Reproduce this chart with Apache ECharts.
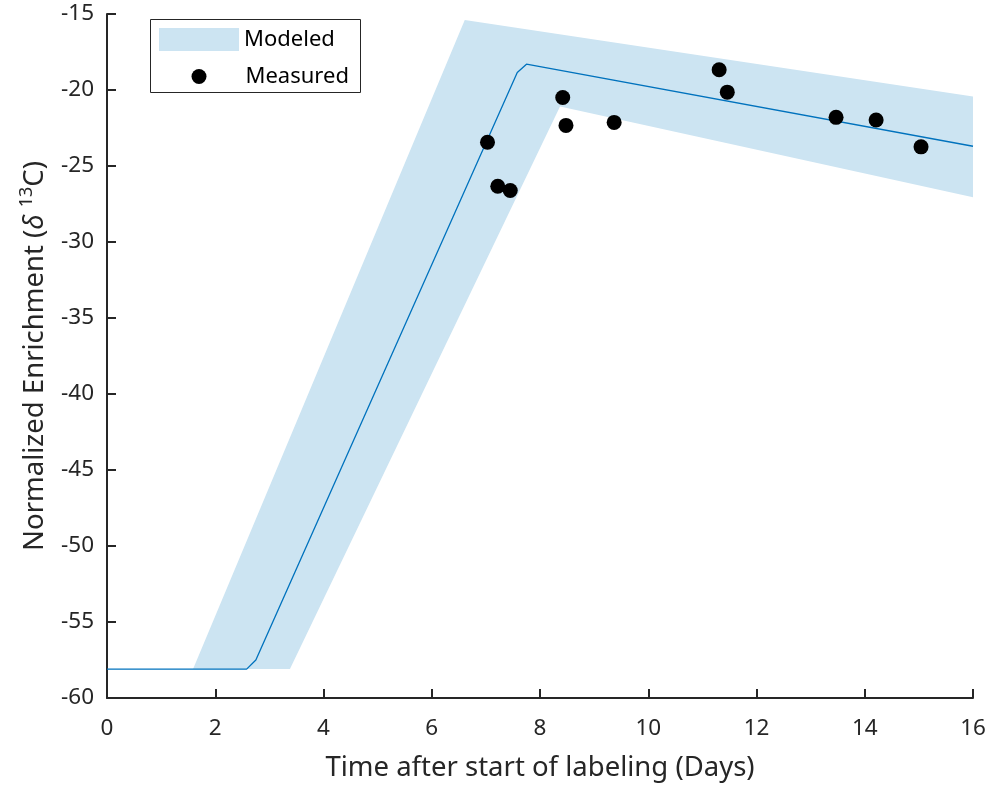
<!DOCTYPE html>
<html>
<head>
<meta charset="utf-8">
<script src="https://cdn.jsdelivr.net/npm/echarts@6/dist/echarts.min.js"></script>
<style>
  html, body { margin: 0; padding: 0; background: #ffffff; }
  #chart { width: 989px; height: 787px; }
</style>
</head>
<body>
<div id="chart"></div>
<script>
// Modeled enrichment curve (days, δ13C)
const modelX = [0, 2.58, 2.75, 7.58, 7.75, 16];
const modelY = [-58.1, -58.1, -57.5, -18.85, -18.3, -23.70];

// Upper and lower edges of the modeled uncertainty band
const bandUpperX = [0, 1.59, 6.43, 6.61, 16];
const bandUpperY = [-58.1, -58.1, -16.92, -15.39, -20.42];
const bandLowerX = [0, 3.38, 8.37, 16];
const bandLowerY = [-58.1, -58.1, -21.08, -27.05];

// Measured samples
const measuredX = [7.03, 7.22, 7.45, 8.42, 8.48, 9.37, 11.31, 11.46, 13.47, 14.21, 15.04];
const measuredY = [-23.44, -26.33, -26.61, -20.49, -22.33, -22.13, -18.67, -20.14, -21.80, -21.97, -23.74];

// Axis ticks
const xTicks = { min: 0, max: 16, step: 2 };
const yTicks = { min: -60, max: -15, step: 5 };

const FONT = 'Noto Sans';
const INK = '#262626';
const BAND = 'rgb(204,228,242)';
const LINE = '#0072BD';

const modelData = modelX.map((x, i) => [x, modelY[i]]);
const measuredData = measuredX.map((x, i) => [x, measuredY[i]]);

const chart = echarts.init(document.getElementById('chart'), null, { renderer: 'canvas' });

chart.setOption({
  animation: false,
  backgroundColor: '#ffffff',
  grid: { left: 107, top: 14, right: 16, bottom: 88, containLabel: false },
  legend: [
    {
      left: 154, top: 23, orient: 'vertical',
      itemWidth: 80, itemHeight: 23,
      data: [{ name: 'Modeled', icon: 'rect' }],
      textStyle: { fontFamily: FONT, fontSize: 22, color: '#000' },
      selectedMode: false
    },
    {
      left: 186.5, top: 60.5, orient: 'vertical',
      itemWidth: 15, itemHeight: 15,
      data: [{ name: 'Measured', icon: 'circle', itemStyle: { color: '#000', opacity: 1 } }],
      textStyle: { fontFamily: FONT, fontSize: 22, color: '#000', padding: [0, 0, 0, 34] },
      selectedMode: false
    }
  ],
  graphic: [
    {
      type: 'rect', z: 100, silent: true,
      shape: { x: 150.5, y: 19.5, width: 210, height: 73 },
      style: { fill: 'none', stroke: INK, lineWidth: 1 }
    }
  ],
  xAxis: {
    type: 'value',
    min: xTicks.min, max: xTicks.max, interval: xTicks.step,
    name: 'Time after start of labeling (Days)',
    nameLocation: 'middle', nameGap: 56,
    nameTextStyle: { fontFamily: FONT, fontSize: 27.5, color: INK },
    axisLine: { show: true, onZero: false, lineStyle: { color: INK, width: 2 } },
    axisTick: { show: true, inside: true, length: 9, lineStyle: { color: INK, width: 2 } },
    axisLabel: { fontFamily: FONT, fontSize: 22.5, color: INK, margin: 19 },
    splitLine: { show: false }
  },
  yAxis: {
    type: 'value',
    min: yTicks.min, max: yTicks.max, interval: yTicks.step,
    name: '{t|Normalized Enrichment (}{d|δ}{t| }{s|13}{t|C)}',
    nameLocation: 'middle', nameGap: 55, nameRotate: 90,
    nameTextStyle: {
      fontFamily: FONT, fontSize: 27.5, color: INK,
      rich: {
        t: { fontFamily: FONT, fontSize: 27.5, color: INK, lineHeight: 34 },
        d: { fontFamily: FONT, fontSize: 27.5, color: INK, fontStyle: 'italic', lineHeight: 34 },
        s: { fontFamily: FONT, fontSize: 18, color: INK, verticalAlign: 'top', lineHeight: 22 }
      }
    },
    axisLine: { show: true, onZero: false, lineStyle: { color: INK, width: 2 } },
    axisTick: { show: true, inside: true, length: 9, lineStyle: { color: INK, width: 2 } },
    axisLabel: { fontFamily: FONT, fontSize: 22.5, color: INK, margin: 13 },
    splitLine: { show: false }
  },
  series: [
    {
      name: 'Modeled',
      type: 'custom',
      coordinateSystem: 'cartesian2d',
      itemStyle: { color: BAND },
      data: [[0, bandUpperY[0]]],
      z: 1,
      silent: true,
      renderItem: function (params, api) {
        const pts = [];
        for (let i = 0; i < bandUpperX.length; i++) {
          pts.push(api.coord([bandUpperX[i], bandUpperY[i]]));
        }
        for (let i = bandLowerX.length - 1; i >= 0; i--) {
          pts.push(api.coord([bandLowerX[i], bandLowerY[i]]));
        }
        return {
          type: 'polygon',
          shape: { points: pts },
          style: { fill: BAND, stroke: null }
        };
      }
    },
    {
      name: 'Model line',
      type: 'line',
      data: modelData,
      showSymbol: false,
      symbol: 'none',
      lineStyle: { color: LINE, width: 1.3 },
      z: 2,
      silent: true
    },
    {
      name: 'Measured',
      type: 'scatter',
      data: measuredData,
      symbol: 'circle',
      symbolSize: 15,
      itemStyle: { color: '#000000', opacity: 1 },
      z: 3
    }
  ]
});
</script>
</body>
</html>
